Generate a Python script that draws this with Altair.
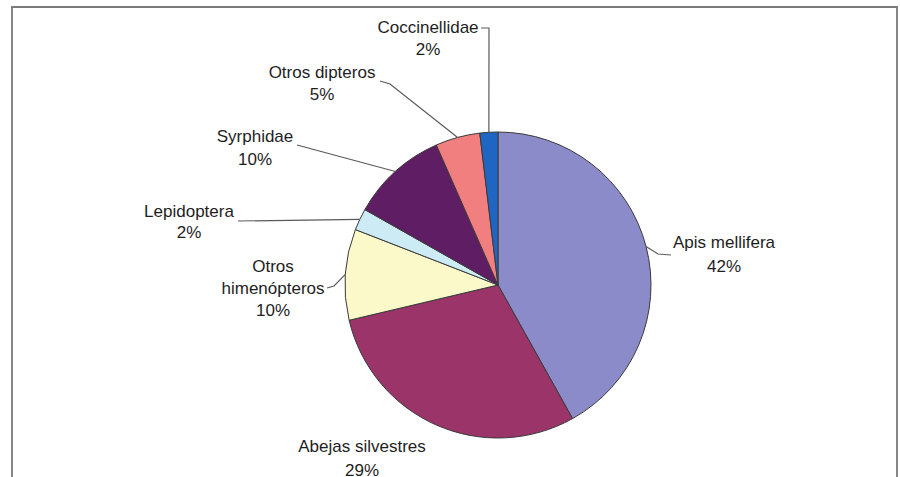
import altair as alt
import numpy as np
import pandas as pd

# ---------------- data ----------------
categories = ["Apis mellifera", "Abejas silvestres", "Otros himenópteros",
              "Lepidoptera", "Syrphidae", "Otros dipteros", "Coccinellidae"]
values = [41.9, 29.4, 9.6, 2.3, 10.2, 4.7, 1.9]
colors = ["#8B8BC9", "#9B3469", "#FBF8C9", "#CDEBF5", "#5F1D63", "#F27F7F", "#1F65C2"]

# ---------------- layout ----------------
W, H = 900, 477
CX, CY, R = 498, 285, 153
FONT = "Liberation Sans"
# label: centre x, first baseline y, line spacing, wrap name, leader start points
label_layout = {
    "Apis mellifera":     dict(x=724, y=248, lh=24, wrap=False, lead=[(671, 255), (658, 254)]),
    "Abejas silvestres":  dict(x=362, y=452, lh=24, wrap=False, lead=[]),
    "Otros himenópteros": dict(x=273, y=272, lh=22, wrap=True,  lead=[(327, 288), (334, 286)]),
    "Lepidoptera":        dict(x=189, y=217, lh=21, wrap=False, lead=[(238, 221)]),
    "Syrphidae":          dict(x=255, y=142, lh=23, wrap=False, lead=[(297, 145)]),
    "Otros dipteros":     dict(x=322, y=78,  lh=22, wrap=False, lead=[(380, 81), (390, 84)]),
    "Coccinellidae":      dict(x=428, y=33,  lh=22, wrap=False, lead=[(481, 28), (489, 28)]),
}

total = sum(values)
pie_df = pd.DataFrame({"cat": categories, "val": values, "ord": range(len(categories))})

# label text rows
rows = []
for c, v in zip(categories, values):
    L = label_layout[c]
    lines = c.split(" ") if L["wrap"] else [c]
    lines = lines + [f"{round(v / total * 100):d}%"]
    for i, t in enumerate(lines):
        rows.append(dict(cat=c, text=t, x=L["x"], y=L["y"] + i * L["lh"]))
text_df = pd.DataFrame(rows)

# leader lines: from label to the slice's mid-angle point on the rim
lead_rows = []
cum = 0.0
for c, v in zip(categories, values):
    mid = 2 * np.pi * (cum + v / 2) / total
    cum += v
    pts = label_layout[c]["lead"]
    if not pts:
        continue
    ex, ey = CX + R * np.sin(mid), CY - R * np.cos(mid)
    allp = list(pts) + [(ex, ey)]
    for k, (px, py) in enumerate(allp):
        lead_rows.append(dict(cat=c, k=k, x=px, y=py))
lead_df = pd.DataFrame(lead_rows)

xs = alt.Scale(domain=[0, W], range=[0, W], nice=False, zero=False)
ys = alt.Scale(domain=[0, H], range=[0, H], nice=False, zero=False)

pie = alt.Chart(pie_df).mark_arc(radius=R, stroke="#3a3a3a", strokeWidth=1).encode(
    theta=alt.Theta("val:Q", stack=True),
    order=alt.Order("ord:Q"),
    color=alt.Color("cat:N", scale=alt.Scale(domain=categories, range=colors), legend=None),
    x=alt.value(CX), y=alt.value(CY),
)

leaders = alt.Chart(lead_df).mark_line(color="#5a5a5a", strokeWidth=1.2).encode(
    x=alt.X("x:Q", scale=xs, axis=None),
    y=alt.Y("y:Q", scale=ys, axis=None),
    detail="cat:N",
    order="k:Q",
)

labels = alt.Chart(text_df).mark_text(
    font=FONT, fontSize=17, color="#1e1e1e", align="center", baseline="alphabetic"
).encode(
    x=alt.X("x:Q", scale=xs, axis=None),
    y=alt.Y("y:Q", scale=ys, axis=None),
    text="text:N",
)

frame = alt.Chart(pie_df).mark_rect(fillOpacity=0, stroke="#7a7a7a", strokeWidth=1.8).encode(
    x=alt.value(12), x2=alt.value(897), y=alt.value(7), y2=alt.value(520)
).transform_filter("datum.ord == 0")

chart = alt.layer(frame, pie, leaders, labels).properties(
    width=W, height=H, padding=0, autosize=alt.AutoSizeParams(type="none"), background="white"
).configure_view(stroke=None)

chart.save("out.html", embed_options={"renderer": "svg", "actions": False})
